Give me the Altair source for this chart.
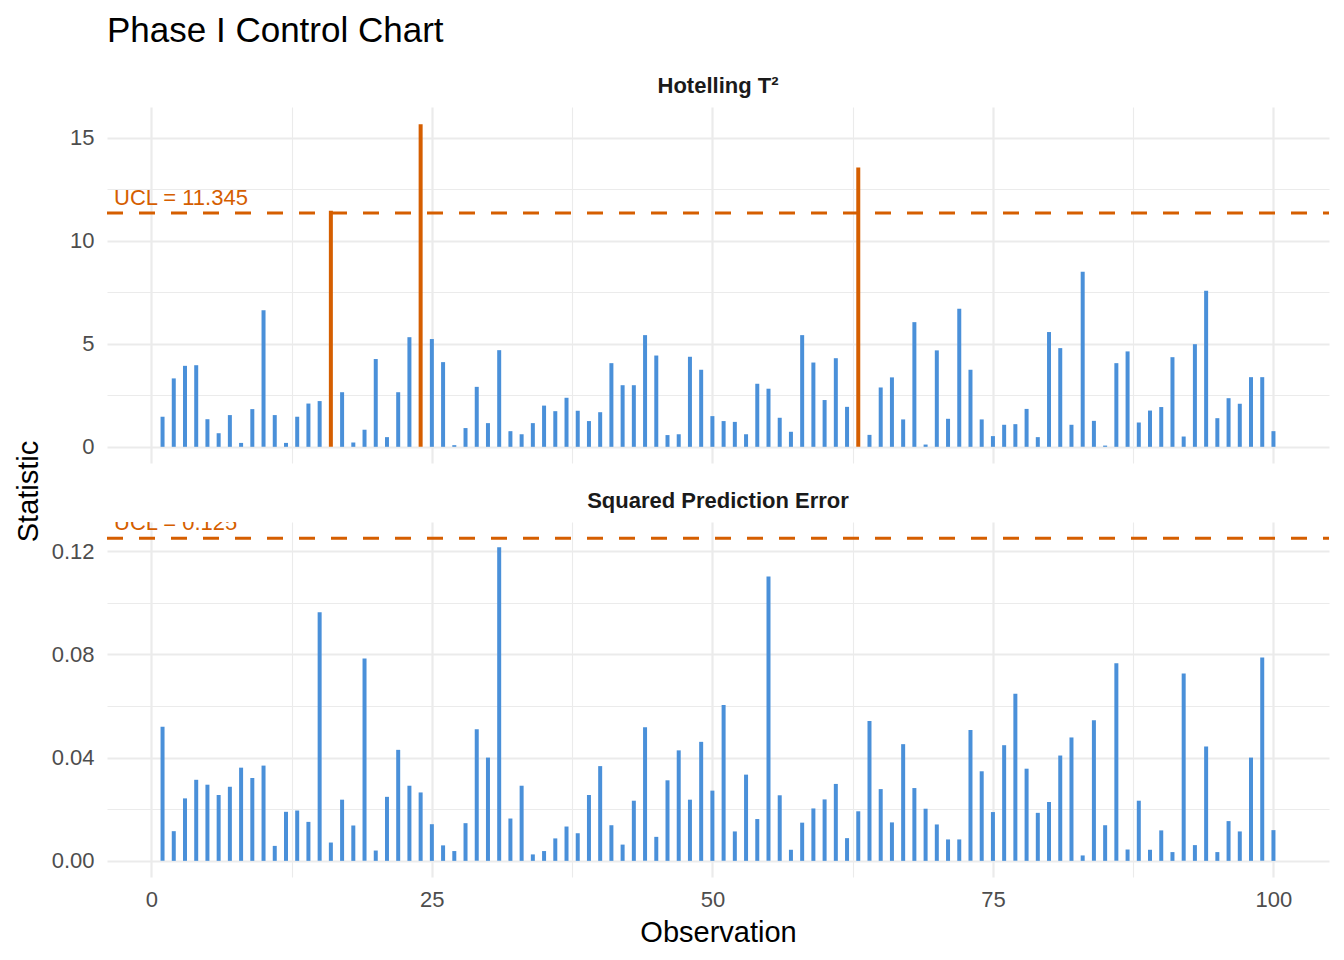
import altair as alt
import pandas as pd

# ---------------- data ----------------
observations = list(range(1, 101))

t2_values = [1.46, 3.32, 3.93, 3.96, 1.34, 0.66, 1.54, 0.19, 1.83, 6.63,
             1.54, 0.19, 1.46, 2.10, 2.22, 11.46, 2.65, 0.21, 0.83, 4.26,
             0.47, 2.65, 5.32, 15.65, 5.23, 4.11, 0.08, 0.91, 2.91, 1.15,
             4.69, 0.76, 0.61, 1.15, 2.00, 1.73, 2.38, 1.75, 1.25, 1.68,
             4.06, 2.99, 2.99, 5.42, 4.43, 0.57, 0.61, 4.37, 3.74, 1.49,
             1.25, 1.21, 0.61, 3.06, 2.82, 1.41, 0.73, 5.42, 4.09, 2.27,
             4.30, 1.94, 13.56, 0.58, 2.88, 3.37, 1.33, 6.05, 0.11, 4.68,
             1.36, 6.70, 3.74, 1.33, 0.52, 1.07, 1.10, 1.84, 0.47, 5.57,
             4.79, 1.07, 8.50, 1.26, 0.06, 4.06, 4.63, 1.18, 1.76, 1.93,
             4.35, 0.50, 4.98, 7.57, 1.39, 2.36, 2.09, 3.38, 3.38, 0.76]

spe_values = [0.0519, 0.0115, 0.0242, 0.0314, 0.0295, 0.0255, 0.0287, 0.0361, 0.0321, 0.0369,
              0.0058, 0.0190, 0.0195, 0.0151, 0.0963, 0.0071, 0.0237, 0.0137, 0.0784, 0.0040,
              0.0248, 0.0430, 0.0291, 0.0265, 0.0142, 0.0060, 0.0038, 0.0146, 0.0510, 0.0400,
              0.1215, 0.0164, 0.0291, 0.0025, 0.0038, 0.0087, 0.0133, 0.0107, 0.0255, 0.0367,
              0.0138, 0.0063, 0.0233, 0.0518, 0.0093, 0.0312, 0.0428, 0.0237, 0.0461, 0.0272,
              0.0604, 0.0114, 0.0334, 0.0162, 0.1101, 0.0254, 0.0043, 0.0148, 0.0203, 0.0238,
              0.0298, 0.0088, 0.0192, 0.0542, 0.0278, 0.0149, 0.0452, 0.0282, 0.0202, 0.0141,
              0.0083, 0.0083, 0.0507, 0.0347, 0.0189, 0.0448, 0.0647, 0.0357, 0.0186, 0.0228,
              0.0408, 0.0478, 0.0021, 0.0545, 0.0138, 0.0765, 0.0044, 0.0233, 0.0043, 0.0118,
              0.0034, 0.0726, 0.0061, 0.0443, 0.0034, 0.0154, 0.0114, 0.0400, 0.0788, 0.0119]

t2_ucl = 11.345
spe_ucl = 0.125
t2_ucl_label = "UCL = 11.345"
spe_ucl_label = "UCL =  0.125"

panel_titles = ["Hotelling T²", "Squared Prediction Error"]
chart_title = "Phase I Control Chart"
x_title = "Observation"
y_title = "Statistic"

x_ticks = [0, 12.5, 25, 37.5, 50, 62.5, 75, 87.5, 100]
t2_ticks = [0, 2.5, 5, 7.5, 10, 12.5, 15]
spe_ticks = [0, 0.02, 0.04, 0.06, 0.08, 0.10, 0.12]

# ---------------- style ----------------
BLUE = "#4A90D9"
ORANGE = "#D55E00"
GRID = "#EBEBEB"
FONT = "Liberation Sans"
W = 1222
H_TOP = 356
H_BOT = 355


def make_df(values, ucl):
    return pd.DataFrame({
        "obs": observations,
        "val": values,
        "status": ["out" if v > ucl else "in" for v in values],
    })


def panel(values, ucl, ucl_label, title, ydomain, yticks, major_test, yfmt,
          height, bottom):
    df = make_df(values, ucl)
    grid_w_x = {"condition": {"test": "datum.value % 25 === 0", "value": 2.2}, "value": 1.1}
    grid_w_y = {"condition": {"test": major_test, "value": 2.2}, "value": 1.1}

    if bottom:
        x_axis = alt.Axis(values=x_ticks, grid=True, gridColor=GRID, gridWidth=grid_w_x,
                          labelExpr="datum.value % 25 === 0 ? datum.label : ''",
                          ticks=False, domain=False, labelFontSize=22,
                          labelColor="#4D4D4D", labelBaseline="alphabetic",
                          labelPadding=29.5, labelFont=FONT,
                          title=x_title, titleFontSize=29, titleFontWeight="normal",
                          titleColor="black", titleBaseline="alphabetic", titleY=64,
                          titleFont=FONT)
        y_axis = alt.Axis(values=yticks, grid=True, gridColor=GRID, gridWidth=grid_w_y,
                          labelExpr=f"({major_test}) ? datum.label : ''", format=yfmt,
                          ticks=False, domain=False, labelFontSize=22,
                          labelColor="#4D4D4D", labelPadding=13, labelFont=FONT,
                          title=None)
    else:
        x_axis = alt.Axis(values=x_ticks, grid=True, gridColor=GRID, gridWidth=grid_w_x,
                          labels=False, ticks=False, domain=False, title=None)
        y_axis = alt.Axis(values=yticks, grid=True, gridColor=GRID, gridWidth=grid_w_y,
                          labelExpr=f"({major_test}) ? datum.label : ''", format=yfmt,
                          ticks=False, domain=False, labelFontSize=22,
                          labelColor="#4D4D4D", labelPadding=13, labelFont=FONT,
                          title=y_title, titleFontSize=29, titleFontWeight="normal",
                          titleColor="black", titleAngle=270, titleBaseline="alphabetic",
                          titleAlign="center", titleX=-69.7, titleY=384, titleFont=FONT)

    xs = alt.Scale(domain=[-3.95, 104.95], nice=False, zero=False)
    ys = alt.Scale(domain=ydomain, nice=False, zero=False)

    bars = alt.Chart(df).mark_rule(strokeWidth=4).encode(
        x=alt.X("obs:Q", scale=xs, axis=x_axis),
        y=alt.Y("val:Q", scale=ys, axis=y_axis),
        y2=alt.datum(0),
        color=alt.Color("status:N", scale=alt.Scale(domain=["in", "out"], range=[BLUE, ORANGE]),
                        legend=None),
    )

    ucl_df = pd.DataFrame({"val": [ucl], "label": [ucl_label]})
    line = alt.Chart(ucl_df).mark_rule(color=ORANGE, strokeWidth=3, strokeDash=[16, 16]).encode(
        y=alt.Y("val:Q"),
        x=alt.value(0),
        x2=alt.value(W),
    )
    txt = alt.Chart(ucl_df).mark_text(align="left", baseline="alphabetic", dy=-8,
                                      fontSize=22, color=ORANGE, font=FONT,
                                      clip=True).encode(
        x=alt.value(7),
        y=alt.Y("val:Q"),
        text="label:N",
    )
    strip_df = pd.DataFrame({"label": [title]})
    strip = alt.Chart(strip_df).mark_text(align="center", baseline="alphabetic",
                                          fontSize=22, fontWeight="bold",
                                          color="#1A1A1A", font=FONT).encode(
        x=alt.value(W / 2),
        y=alt.value(-14.3),
        text="label:N",
    )
    layers = [bars, line, txt, strip]
    if not bottom:
        main_df = pd.DataFrame({"label": [chart_title]})
        main = alt.Chart(main_df).mark_text(align="left", baseline="alphabetic",
                                            fontSize=35, color="black", font=FONT).encode(
            x=alt.value(0),
            y=alt.value(-65.3),
            text="label:N",
        )
        layers.append(main)
    return alt.layer(*layers).properties(width=W, height=height)


top = panel(t2_values, t2_ucl, t2_ucl_label, panel_titles[0], [-0.785, 16.49],
            t2_ticks, "datum.value % 5 === 0", "d", H_TOP, False)
bottom = panel(spe_values, spe_ucl, spe_ucl_label, panel_titles[1], [-0.00625, 0.13125],
               spe_ticks, "abs(round(datum.value * 100)) % 4 === 0", ".2f", H_BOT, True)

chart = alt.vconcat(top, bottom, spacing=59, bounds="flush").properties(
    padding={"left": 6, "top": 5, "right": 5, "bottom": 5}
).configure(font=FONT, background="white").configure_view(stroke=None, strokeWidth=0)

chart.save("out.html", embed_options={"renderer": "svg", "actions": False})
